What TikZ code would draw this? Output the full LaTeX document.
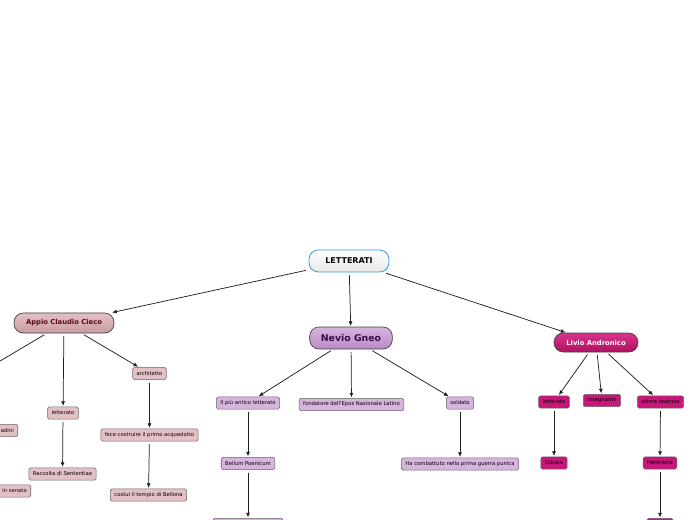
\documentclass[tikz,border=0pt]{standalone}
\usepackage{fontspec}
\setmainfont{DejaVu Sans}
\usetikzlibrary{arrows.meta}
\definecolor{edgec}{HTML}{1E1E1E}
\definecolor{blueb}{HTML}{3A9AD9}
\definecolor{pinkf}{HTML}{E3C0C4}
\definecolor{pinkd}{HTML}{C99CA2}
\definecolor{pinkt}{HTML}{5A0A1E}
\definecolor{pinkb}{HTML}{6E5A5C}
\definecolor{lavf}{HTML}{D6B4DE}
\definecolor{lavd}{HTML}{B98CC4}
\definecolor{lavt}{HTML}{3A0A4A}
\definecolor{lavb}{HTML}{5A4A60}
\definecolor{magf}{HTML}{D8348C}
\definecolor{magd}{HTML}{B0105F}
\definecolor{magc}{HTML}{C8177A}
\definecolor{magb}{HTML}{6A2A48}
\begin{document}
\begin{tikzpicture}[x=0.75pt,y=-0.75pt,
  root/.style={draw=blueb,line width=0.6pt,rounded corners=7pt,top color=white,bottom color=gray!18,
    minimum width=60pt,minimum height=16.5pt,inner sep=0pt,font=\fontsize{6}{7}\selectfont\bfseries},
  mainbox/.style={draw=black!75,line width=0.5pt,rounded corners=7pt,minimum height=15pt,inner sep=0pt},
  appio/.style={mainbox,top color=pinkf,bottom color=pinkd,text=pinkt,minimum width=75pt,font=\fontsize{5.1}{6}\selectfont\bfseries},
  nevio/.style={mainbox,top color=lavf,bottom color=lavd,text=lavt,minimum width=62pt,minimum height=16.5pt,font=\fontsize{7}{8}\selectfont\bfseries},
  livio/.style={mainbox,top color=magf,bottom color=magd,text=white,minimum width=63pt,minimum height=14.25pt,font=\fontsize{5.1}{6}\selectfont\bfseries},
  leaf/.style={draw=black!60,line width=0.4pt,rounded corners=1.2pt,minimum height=9.2pt,inner xsep=3pt,inner ysep=0pt,font=\fontsize{3.95}{4.6}\selectfont},
  pleaf/.style={leaf,fill=pinkf},
  vleaf/.style={leaf,fill=lavf},
  mleaf/.style={leaf,fill=magc},
  conn/.style={draw=edgec,line width=0.55pt,-{Latex[length=3.5pt,width=3pt]},shorten >=0.5pt,shorten <=2pt}
]
\useasboundingbox (0,0) rectangle (696,520);
\clip (0,0) rectangle (696,520);

% main nodes
\node[root] (let) at (349,261) {LETTERATI};
\node[appio] (app) at (64,323) {Appio Claudio Cieco};
\node[nevio] (nev) at (351,338) {Nevio Gneo};
\node[livio] (liv) at (596,342.5) {Livio Andronico};

% Appio children
\coordinate (offl) at (-20,373);
\node[pleaf,anchor=east,text width=30pt,align=right] (cit) at (18,430.5) {adini};
\node[pleaf,anchor=east,text width=30pt,align=right] (sen) at (31,491) {in senato};
\node[pleaf] (alet) at (63,413) {letterato};
\node[pleaf] (racc) at (62.5,474) {Raccolta di Sententiae};
\node[pleaf] (arch) at (149.5,373.5) {architetto};
\node[pleaf] (fece) at (149.5,435) {fece costruire il primo acquedotto};
\node[pleaf] (cost) at (148.5,495) {costui il tempio di Bellona};

% Nevio children
\node[vleaf] (piu) at (248,403) {Il più antico letterato};
\node[vleaf] (fond) at (351.5,404.5) {fondatore dell'Epos Nazionale Latino};
\node[vleaf] (sold) at (460,403) {soldato};
\node[vleaf] (bell) at (248,463.5) {Bellum Poenicum};
\node[vleaf,minimum width=52.5pt] (nbot) at (248,524.5) {};
\node[vleaf] (comb) at (460,464) {Ha combattuto nella prima guerra punica};

% Livio children
\node[mleaf] (llet) at (554,402) {letterato};
\node[mleaf] (ins) at (602,400.5) {insegnante};
\node[mleaf] (att) at (660.5,402) {attore teatrale};
\node[mleaf] (odu) at (554,463) {Odusia};
\node[mleaf] (her) at (660,463) {Hermiona};
\node[mleaf,minimum width=19.5pt] (lbot) at (660,524.5) {};

% connectors
\draw[conn] (let) -- (app);
\draw[conn] (let) -- (nev);
\draw[conn] (let) -- (liv);
\draw[draw=edgec,line width=0.55pt,shorten <=2pt] (app) -- (offl);
\draw[conn] (app) -- (alet);
\draw[conn] (app) -- (arch);
\draw[conn] (alet) -- (racc);
\draw[conn] (arch) -- (fece);
\draw[conn] (fece) -- (cost);
\draw[conn] (nev) -- (piu);
\draw[conn] (nev) -- (fond);
\draw[conn] (nev) -- (sold);
\draw[conn] (piu) -- (bell);
\draw[conn] (bell) -- (nbot);
\draw[conn] (sold) -- (comb);
\draw[conn] (liv) -- (llet);
\draw[conn] (liv) -- (ins);
\draw[conn] (liv) -- (att);
\draw[conn] (llet) -- (odu);
\draw[conn] (att) -- (her);
\draw[conn] (her) -- (lbot);
\end{tikzpicture}
\end{document}
